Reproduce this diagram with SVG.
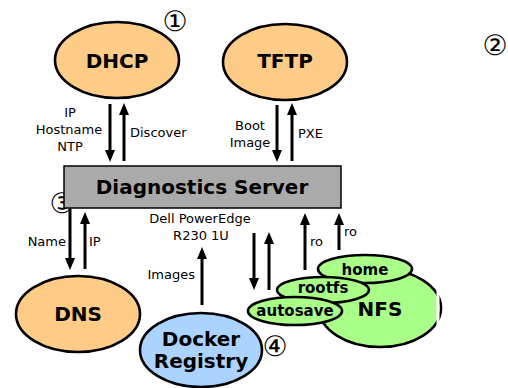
<svg xmlns="http://www.w3.org/2000/svg" width="508" height="388" viewBox="0 0 508 388">
  <style>
    text { font-family: "DejaVu Sans", "Liberation Sans", sans-serif; fill: #000; }
    .title { font-size: 20px; font-weight: bold; text-anchor: middle; }
    .sub { font-size: 15px; font-weight: bold; text-anchor: middle; }
    .lbl { font-size: 13px; }
    .mid { text-anchor: middle; }
    .end { text-anchor: end; }
    .num { font-size: 28px; text-anchor: middle; }
    .svc { fill: #ffcc88; stroke: #000; stroke-width: 2.6; }
    .reg { fill: #aad4ff; stroke: #000; stroke-width: 2.6; }
    .fs { fill: #aaff88; stroke: #000; stroke-width: 2.6; }
    .arrow { stroke: #000; stroke-width: 3; fill: none; marker-end: url(#head); }
  </style>
  <defs>
    <marker id="head" markerUnits="userSpaceOnUse" markerWidth="12" markerHeight="10" refX="8" refY="5" orient="auto">
      <path d="M0,0 L12,5 L0,10 z" fill="#000"/>
    </marker>
  </defs>

  <!-- step markers -->
  <text class="num" x="175" y="31">①</text>
  <text class="num" x="495" y="55">②</text>
  <text class="num" x="62" y="213">③</text>
  <text class="num" x="275" y="356">④</text>

  <g id="dhcp">
    <ellipse class="svc" cx="117" cy="60" rx="62" ry="38"/>
    <text class="title" x="117" y="68">DHCP</text>
  </g>

  <g id="tftp">
    <ellipse class="svc" cx="285" cy="62" rx="62" ry="38"/>
    <text class="title" x="285" y="68">TFTP</text>
  </g>

  <g id="server">
    <rect x="64" y="166" width="277" height="42" fill="#aaaaaa" stroke="#000" stroke-width="1.5"/>
    <text class="title" x="202" y="194">Diagnostics Server</text>
    <text class="lbl mid" x="200" y="223">Dell PowerEdge</text>
    <text class="lbl mid" x="201" y="240">R230 1U</text>
  </g>

  <g id="dns">
    <ellipse class="svc" cx="78" cy="314" rx="62" ry="38"/>
    <text class="title" x="78" y="321">DNS</text>
  </g>

  <g id="registry">
    <ellipse class="reg" cx="201" cy="350" rx="61" ry="37"/>
    <text class="title" x="201" y="346">Docker</text>
    <text class="title" x="201" y="368">Registry</text>
  </g>

  <g id="nfs">
    <ellipse class="fs" cx="380" cy="308" rx="61" ry="39"/>
    <rect x="436.5" y="285" width="3" height="46" fill="#fff"/>
    <text class="title" x="380" y="316">NFS</text>
    <ellipse class="fs" cx="365" cy="269" rx="47" ry="14"/>
    <text class="sub" x="365" y="275">home</text>
    <ellipse class="fs" cx="323" cy="290" rx="46" ry="13"/>
    <text class="sub" x="323" y="293">rootfs</text>
    <ellipse class="fs" cx="295" cy="311" rx="47" ry="14"/>
    <text class="sub" x="295" y="316">autosave</text>
  </g>

  <g id="connectors">
    <!-- DHCP -->
    <line class="arrow" x1="110" y1="104" x2="110" y2="158"/>
    <line class="arrow" x1="124" y1="161" x2="124" y2="107"/>
    <!-- TFTP -->
    <line class="arrow" x1="277" y1="105" x2="277" y2="158"/>
    <line class="arrow" x1="292" y1="161" x2="292" y2="107"/>
    <!-- DNS -->
    <line class="arrow" x1="70" y1="209" x2="70" y2="266"/>
    <line class="arrow" x1="85" y1="269" x2="85" y2="216"/>
    <!-- Registry -->
    <line class="arrow" x1="202" y1="305" x2="202" y2="251"/>
    <!-- autosave -->
    <line class="arrow" x1="254" y1="233" x2="254" y2="286"/>
    <line class="arrow" x1="269" y1="290" x2="269" y2="236"/>
    <!-- rootfs / home -->
    <line class="arrow" x1="305" y1="270" x2="305" y2="217"/>
    <line class="arrow" x1="339" y1="250" x2="339" y2="217"/>
  </g>

  <g id="labels">
    <text class="lbl mid" x="70" y="117">IP</text>
    <text class="lbl mid" x="69" y="134">Hostname</text>
    <text class="lbl mid" x="70" y="151">NTP</text>
    <text class="lbl" x="130" y="137">Discover</text>
    <text class="lbl mid" x="250" y="130">Boot</text>
    <text class="lbl mid" x="250" y="147">Image</text>
    <text class="lbl" x="298" y="138">PXE</text>
    <text class="lbl end" x="66" y="246">Name</text>
    <text class="lbl" x="89" y="246">IP</text>
    <text class="lbl end" x="195" y="279">Images</text>
    <text class="lbl" x="310" y="246">ro</text>
    <text class="lbl" x="344" y="236">ro</text>
  </g>
</svg>
